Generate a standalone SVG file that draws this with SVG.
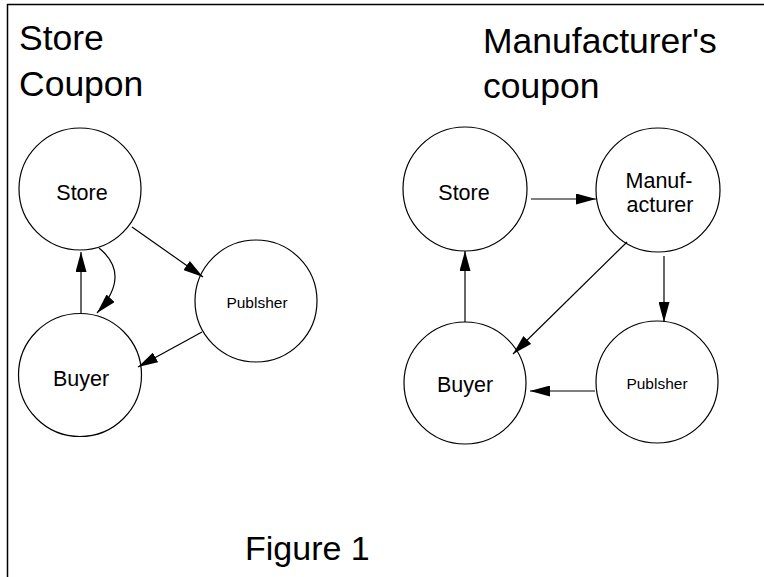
<svg xmlns="http://www.w3.org/2000/svg" width="764" height="577" viewBox="0 0 764 577">
  <style>
    .frame { fill: none; stroke: #000; stroke-width: 1.5; }
    .node circle { fill: #fff; stroke: #000; stroke-width: 1.2; }
    .label { font-family: "Liberation Sans", Arial, sans-serif; fill: #000; text-anchor: middle; }
    .big { font-size: 21.5px; }
    .small { font-size: 15.5px; }
    .title { font-family: "Liberation Sans", Arial, sans-serif; font-size: 35.5px; fill: #000; }
    .caption { font-family: "Liberation Sans", Arial, sans-serif; font-size: 34px; fill: #000; }
    .edge { fill: none; stroke: #000; stroke-width: 1.2; marker-end: url(#head); }
  </style>
  <defs>
    <marker id="head" markerUnits="userSpaceOnUse" markerWidth="20" markerHeight="11" refX="20" refY="5.5" orient="auto">
      <path d="M0,0 L20,5.5 L0,11 z" fill="#000"/>
    </marker>
  </defs>

  <rect width="764" height="577" fill="#fff"/>
  <!-- frame: top and left rules -->
  <path class="frame" d="M7.5,577 L7.5,4.5 L764,4.5"/>

  <!-- headings -->
  <text class="title" x="19" y="50">Store</text>
  <text class="title" x="19" y="96">Coupon</text>
  <text class="title" x="483" y="53">Manufacturer's</text>
  <text class="title" x="483" y="98">coupon</text>
  <text class="caption" x="245" y="560">Figure 1</text>

  <!-- store coupon graph -->
  <g id="sc-store" class="node">
    <circle cx="80" cy="189" r="61"/>
    <text class="label big" x="82" y="200">Store</text>
  </g>
  <g id="sc-publisher" class="node">
    <circle cx="256" cy="301" r="61"/>
    <text class="label small" x="257" y="308">Publsher</text>
  </g>
  <g id="sc-buyer" class="node">
    <circle cx="80" cy="375" r="61.5"/>
    <text class="label big" x="81" y="386">Buyer</text>
  </g>

  <!-- manufacturer's coupon graph -->
  <g id="mc-store" class="node">
    <circle cx="465" cy="189" r="62"/>
    <text class="label big" x="464" y="200">Store</text>
  </g>
  <g id="mc-manufacturer" class="node">
    <circle cx="658" cy="190" r="62"/>
    <text class="label big" x="659" y="188">Manuf-</text>
    <text class="label big" x="660" y="212">acturer</text>
  </g>
  <g id="mc-buyer" class="node">
    <circle cx="465" cy="383" r="61"/>
    <text class="label big" x="465" y="392">Buyer</text>
  </g>
  <g id="mc-publisher" class="node">
    <circle cx="657" cy="382" r="61"/>
    <text class="label small" x="657" y="389">Publsher</text>
  </g>

  <g id="connectors">
    <!-- store coupon -->
    <path class="edge" d="M132,227 L203,277"/>
    <path class="edge" d="M81,313 L81,252"/>
    <path class="edge" d="M99,248 Q132,275 97,313"/>
    <path class="edge" d="M202,332 L138,367"/>
    <!-- manufacturer's coupon -->
    <path class="edge" d="M531,199 L596,199"/>
    <path class="edge" d="M465,322 L465,251"/>
    <path class="edge" d="M627,242 L513,354"/>
    <path class="edge" d="M664,256 L664,322"/>
    <path class="edge" d="M595,391 L530,391"/>
  </g>
</svg>
